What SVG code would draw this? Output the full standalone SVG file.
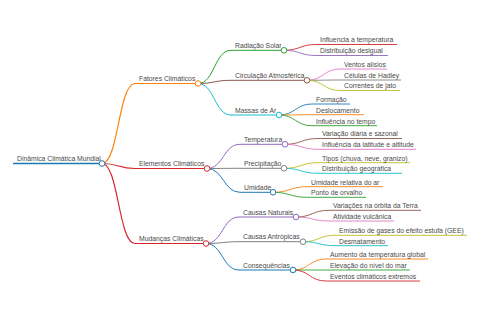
<svg xmlns="http://www.w3.org/2000/svg" width="480" height="320" viewBox="0 0 480 320">
<style>
text{font-family:"Liberation Sans",Arial,sans-serif;font-size:6.8px;fill:#4a4a4a}
path,line{fill:none}
.c{fill:#fff;stroke-width:1}
.l0{stroke-width:1.6}
.l1{stroke-width:1.2}
.l2{stroke-width:1}
.l3{stroke-width:0.9}
</style>
<rect width="480" height="320" fill="#fff"/>
<g id="connectors">
<path class="l1" stroke="#ff7f0e" d="M102,163.5 C118.5,163.5 118.5,83.5 135,83.5"/>
<path class="l1" stroke="#d62728" d="M102,163.5 C118.5,163.5 118.5,168.5 135,168.5"/>
<path class="l1" stroke="#d62728" d="M102,163.5 C118.5,163.5 118.5,243.5 135,243.5"/>
<path class="l2" stroke="#2ca02c" d="M198,83.5 C214.5,83.5 214.5,50.3 231,50.3"/>
<path class="l2" stroke="#8c564b" d="M198,83.5 C214.5,83.5 214.5,80.3 231,80.3"/>
<path class="l2" stroke="#17becf" d="M198,83.5 C214.5,83.5 214.5,115 231,115"/>
<path class="l2" stroke="#9467bd" d="M207,168.5 C223.5,168.5 223.5,144.3 240,144.3"/>
<path class="l2" stroke="#7f7f7f" d="M207,168.5 C223.5,168.5 223.5,168.3 240,168.3"/>
<path class="l2" stroke="#1f77b4" d="M207,168.5 C223.5,168.5 223.5,192.3 240,192.3"/>
<path class="l2" stroke="#9467bd" d="M206,243.5 C222.5,243.5 222.5,217 239,217"/>
<path class="l2" stroke="#7f7f7f" d="M206,243.5 C222.5,243.5 222.5,241.7 239,241.7"/>
<path class="l2" stroke="#1f77b4" d="M206,243.5 C222.5,243.5 222.5,270 239,270"/>
<path class="l3" stroke="#d62728" d="M284,50.3 C300,50.3 300,44.5 316,44.5"/>
<path class="l3" stroke="#9467bd" d="M284,50.3 C300,50.3 300,55.5 316,55.5"/>
<path class="l3" stroke="#e377c2" d="M307,80.3 C323.5,80.3 323.5,69 340,69"/>
<path class="l3" stroke="#7f7f7f" d="M307,80.3 C323.5,80.3 323.5,80 340,80"/>
<path class="l3" stroke="#bcbd22" d="M307,80.3 C323.5,80.3 323.5,90.5 340,90.5"/>
<path class="l3" stroke="#1f77b4" d="M279,115 C295.5,115 295.5,104 312,104"/>
<path class="l3" stroke="#ff7f0e" d="M279,115 C295.5,115 295.5,114.7 312,114.7"/>
<path class="l3" stroke="#2ca02c" d="M279,115 C295.5,115 295.5,125.7 312,125.7"/>
<path class="l3" stroke="#8c564b" d="M285,144.3 C301.5,144.3 301.5,138.5 318,138.5"/>
<path class="l3" stroke="#e377c2" d="M285,144.3 C301.5,144.3 301.5,149.3 318,149.3"/>
<path class="l3" stroke="#bcbd22" d="M284,168.3 C301,168.3 301,162.7 318,162.7"/>
<path class="l3" stroke="#17becf" d="M284,168.3 C301,168.3 301,173.3 318,173.3"/>
<path class="l3" stroke="#ff7f0e" d="M273,192.3 C290,192.3 290,186.7 307,186.7"/>
<path class="l3" stroke="#2ca02c" d="M273,192.3 C290,192.3 290,197.3 307,197.3"/>
<path class="l3" stroke="#8c564b" d="M296,217 C312.5,217 312.5,210.3 329,210.3"/>
<path class="l3" stroke="#e377c2" d="M296,217 C312.5,217 312.5,221 329,221"/>
<path class="l3" stroke="#bcbd22" d="M303,241.7 C319,241.7 319,235.3 335,235.3"/>
<path class="l3" stroke="#17becf" d="M303,241.7 C319,241.7 319,245.7 335,245.7"/>
<path class="l3" stroke="#ff7f0e" d="M293,270 C309.5,270 309.5,259 326,259"/>
<path class="l3" stroke="#2ca02c" d="M293,270 C309.5,270 309.5,270 326,270"/>
<path class="l3" stroke="#d62728" d="M293,270 C309.5,270 309.5,281 326,281"/>
</g>
<g id="root"><line class="l0" stroke="#1f77b4" x1="13" y1="163.5" x2="102" y2="163.5"/><text x="17" y="160.8">Dinâmica Climática Mundial</text><circle class="c" stroke="#1f77b4" cx="102" cy="163.5" r="2.8"/></g>
<g id="fatores"><line class="l1" stroke="#ff7f0e" x1="135" y1="83.5" x2="198" y2="83.5"/><text x="139" y="80.8">Fatores Climáticos</text><circle class="c" stroke="#ff7f0e" cx="198" cy="83.5" r="2.8"/></g>
<g id="elementos"><line class="l1" stroke="#d62728" x1="135" y1="168.5" x2="207" y2="168.5"/><text x="139" y="165.8">Elementos Climáticos</text><circle class="c" stroke="#d62728" cx="207" cy="168.5" r="2.8"/></g>
<g id="mudancas"><line class="l1" stroke="#d62728" x1="135" y1="243.5" x2="206" y2="243.5"/><text x="139" y="240.8">Mudanças Climáticas</text><circle class="c" stroke="#d62728" cx="206" cy="243.5" r="2.8"/></g>
<g id="radiacao"><line class="l2" stroke="#2ca02c" x1="231" y1="50.3" x2="284" y2="50.3"/><text x="235" y="47.8">Radiação Solar</text><circle class="c" stroke="#2ca02c" cx="284" cy="50.3" r="2.8"/></g>
<g id="circulacao"><line class="l2" stroke="#8c564b" x1="231" y1="80.3" x2="307" y2="80.3"/><text x="235" y="77.8">Circulação Atmosférica</text><circle class="c" stroke="#8c564b" cx="307" cy="80.3" r="2.8"/></g>
<g id="massas"><line class="l2" stroke="#17becf" x1="231" y1="115" x2="279" y2="115"/><text x="235" y="112.5">Massas de Ar</text><circle class="c" stroke="#17becf" cx="279" cy="115" r="2.8"/></g>
<g id="temperatura"><line class="l2" stroke="#9467bd" x1="240" y1="144.3" x2="285" y2="144.3"/><text x="244" y="141.8">Temperatura</text><circle class="c" stroke="#9467bd" cx="285" cy="144.3" r="2.8"/></g>
<g id="precipitacao"><line class="l2" stroke="#7f7f7f" x1="240" y1="168.3" x2="284" y2="168.3"/><text x="244" y="165.8">Precipitação</text><circle class="c" stroke="#7f7f7f" cx="284" cy="168.3" r="2.8"/></g>
<g id="umidade"><line class="l2" stroke="#1f77b4" x1="240" y1="192.3" x2="273" y2="192.3"/><text x="244" y="189.8">Umidade</text><circle class="c" stroke="#1f77b4" cx="273" cy="192.3" r="2.8"/></g>
<g id="naturais"><line class="l2" stroke="#9467bd" x1="239" y1="217" x2="296" y2="217"/><text x="243" y="214.5">Causas Naturais</text><circle class="c" stroke="#9467bd" cx="296" cy="217" r="2.8"/></g>
<g id="antropicas"><line class="l2" stroke="#7f7f7f" x1="239" y1="241.7" x2="303" y2="241.7"/><text x="243" y="239.2">Causas Antrópicas</text><circle class="c" stroke="#7f7f7f" cx="303" cy="241.7" r="2.8"/></g>
<g id="consequencias"><line class="l2" stroke="#1f77b4" x1="239" y1="270" x2="293" y2="270"/><text x="243" y="267.5">Consequências</text><circle class="c" stroke="#1f77b4" cx="293" cy="270" r="2.8"/></g>
<g id="leaf1"><line class="l3" stroke="#d62728" x1="316" y1="44.5" x2="397" y2="44.5"/><text x="320" y="42.3">Influencia a temperatura</text></g>
<g id="leaf2"><line class="l3" stroke="#9467bd" x1="316" y1="55.5" x2="388" y2="55.5"/><text x="320" y="53.3">Distribuição desigual</text></g>
<g id="leaf3"><line class="l3" stroke="#e377c2" x1="340" y1="69" x2="387" y2="69"/><text x="344" y="66.8">Ventos alísios</text></g>
<g id="leaf4"><line class="l3" stroke="#7f7f7f" x1="340" y1="80" x2="401" y2="80"/><text x="344" y="77.8">Células de Hadley</text></g>
<g id="leaf5"><line class="l3" stroke="#bcbd22" x1="340" y1="90.5" x2="400" y2="90.5"/><text x="344" y="88.3">Correntes de jato</text></g>
<g id="leaf6"><line class="l3" stroke="#1f77b4" x1="312" y1="104" x2="350" y2="104"/><text x="316" y="101.8">Formação</text></g>
<g id="leaf7"><line class="l3" stroke="#ff7f0e" x1="312" y1="114.7" x2="364" y2="114.7"/><text x="316" y="112.5">Deslocamento</text></g>
<g id="leaf8"><line class="l3" stroke="#2ca02c" x1="312" y1="125.7" x2="377" y2="125.7"/><text x="316" y="123.5">Influência no tempo</text></g>
<g id="leaf9"><line class="l3" stroke="#8c564b" x1="318" y1="138.5" x2="402" y2="138.5"/><text x="322" y="136.3">Variação diária e sazonal</text></g>
<g id="leaf10"><line class="l3" stroke="#e377c2" x1="318" y1="149.3" x2="416" y2="149.3"/><text x="322" y="147.1">Influência da latitude e altitude</text></g>
<g id="leaf11"><line class="l3" stroke="#bcbd22" x1="318" y1="162.7" x2="410" y2="162.7"/><text x="322" y="160.5">Tipos (chuva, neve, granizo)</text></g>
<g id="leaf12"><line class="l3" stroke="#17becf" x1="318" y1="173.3" x2="402" y2="173.3"/><text x="322" y="171.1">Distribuição geográfica</text></g>
<g id="leaf13"><line class="l3" stroke="#ff7f0e" x1="307" y1="186.7" x2="383" y2="186.7"/><text x="311" y="184.5">Umidade relativa do ar</text></g>
<g id="leaf14"><line class="l3" stroke="#2ca02c" x1="307" y1="197.3" x2="366" y2="197.3"/><text x="311" y="195.1">Ponto de orvalho</text></g>
<g id="leaf15"><line class="l3" stroke="#8c564b" x1="329" y1="210.3" x2="421" y2="210.3"/><text x="333" y="208.1">Variações na órbita da Terra</text></g>
<g id="leaf16"><line class="l3" stroke="#e377c2" x1="329" y1="221" x2="394" y2="221"/><text x="333" y="218.8">Atividade vulcânica</text></g>
<g id="leaf17"><line class="l3" stroke="#bcbd22" x1="335" y1="235.3" x2="467" y2="235.3"/><text x="339" y="233.1">Emissão de gases do efeito estufa (GEE)</text></g>
<g id="leaf18"><line class="l3" stroke="#17becf" x1="335" y1="245.7" x2="388" y2="245.7"/><text x="339" y="243.5">Desmatamento</text></g>
<g id="leaf19"><line class="l3" stroke="#ff7f0e" x1="326" y1="259" x2="428" y2="259"/><text x="330" y="256.8">Aumento da temperatura global</text></g>
<g id="leaf20"><line class="l3" stroke="#2ca02c" x1="326" y1="270" x2="410" y2="270"/><text x="330" y="267.8">Elevação do nível do mar</text></g>
<g id="leaf21"><line class="l3" stroke="#d62728" x1="326" y1="281" x2="420" y2="281"/><text x="330" y="278.8">Eventos climáticos extremos</text></g>
</svg>
